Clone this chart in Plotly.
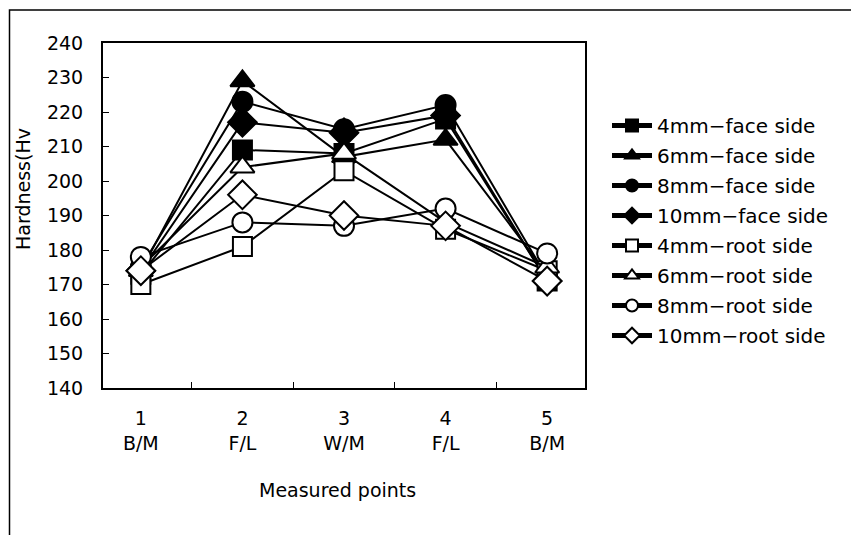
import plotly.graph_objects as go

point_numbers = ["1", "2", "3", "4", "5"]
point_names = ["B/M", "F/L", "W/M", "F/L", "B/M"]

series_names = [
    "4mm\u2212face side", "6mm\u2212face side", "8mm\u2212face side", "10mm\u2212face side",
    "4mm\u2212root side", "6mm\u2212root side", "8mm\u2212root side", "10mm\u2212root side",
]
face4 = [173, 209, 208, 218, 171]
face6 = [174, 229, 207, 212, 173]
face8 = [175, 223, 215, 222, 172]
face10 = [174, 217, 214, 219, 171]
root4 = [170, 181, 203, 186, 174]
root6 = [175, 204, 208, 188, 175]
root8 = [178, 188, 187, 192, 179]
root10 = [174, 196, 190, 187, 171]
series_values = [face4, face6, face8, face10, root4, root6, root8, root10]
symbols = ["square", "triangle-up", "circle", "diamond",
           "square-open", "triangle-up-open", "circle-open", "diamond-open"]

y_ticks = [140, 150, 160, 170, 180, 190, 200, 210, 220, 230, 240]

FONT = "DejaVu Sans"
cats = [f"{n}<br>{p}" for n, p in zip(point_numbers, point_names)]

# page body has an 8px margin; plot area in figure pixels
OFF = 8
L, T, R, B = 95, 35, 577, 380
W, H = R - L, B - T


def px(xs):
    return (xs - OFF - L) / W


def py(ys):
    return (B - (ys - OFF)) / H


sizes = {"square": 19, "triangle-up": 21, "circle": 20, "diamond": 22}

fig = go.Figure()
for i, (name, vals, sym) in enumerate(zip(series_names, series_values, symbols)):
    is_open = sym.endswith("-open")
    base = sym.replace("-open", "")
    fig.add_trace(go.Scatter(
        x=cats, y=vals, name=name, mode="lines+markers",
        legendgroup=f"g{i}",
        line=dict(color="black", width=2),
        marker=dict(symbol=base, size=sizes[base],
                    color="white" if is_open else "black",
                    line=dict(color="black", width=2)),
    ))

fig.update_layout(
    width=859, height=535,
    margin=dict(l=L, r=859 - R, t=T, b=535 - B, autoexpand=False),
    paper_bgcolor="white", plot_bgcolor="white",
    font=dict(family=FONT, size=19, color="black"),
    showlegend=True,
    legend=dict(x=px(607), y=py(106), xanchor="left", yanchor="top",
                font=dict(family=FONT, size=20, color="black"),
                itemsizing="constant", itemwidth=40,
                tracegroupgap=1, bgcolor="rgba(0,0,0,0)"),
    xaxis=dict(type="category", showline=True, mirror=True, linecolor="black",
               linewidth=2, ticks="inside", ticklen=6, tickcolor="black",
               tickson="boundaries", showgrid=False, zeroline=False,
               ticklabelstandoff=12, tickfont=dict(family=FONT, size=19)),
    yaxis=dict(range=[140, 240], tickvals=y_ticks, showline=True, mirror=True,
               linecolor="black", linewidth=2, ticks="inside", ticklen=6,
               tickcolor="black", showgrid=False, zeroline=False,
               ticklabelstandoff=14, tickfont=dict(family=FONT, size=19)),
    shapes=[dict(type="rect", xref="paper", yref="paper",
                 x0=px(9.5), x1=px(920),
                 y0=py(600), y1=py(10),
                 line=dict(color="black", width=1.5), layer="below")],
    annotations=[
        dict(text="Hardness(Hv", xref="paper", yref="paper",
             x=px(23), y=py(189), showarrow=False,
             textangle=-90, xanchor="center", yanchor="middle",
             font=dict(family=FONT, size=19)),
        dict(text="Measured points", xref="paper", yref="paper",
             x=px(337), y=py(490), showarrow=False,
             xanchor="center", yanchor="middle",
             font=dict(family=FONT, size=19)),
    ],
)

fig.write_html("out.html")
